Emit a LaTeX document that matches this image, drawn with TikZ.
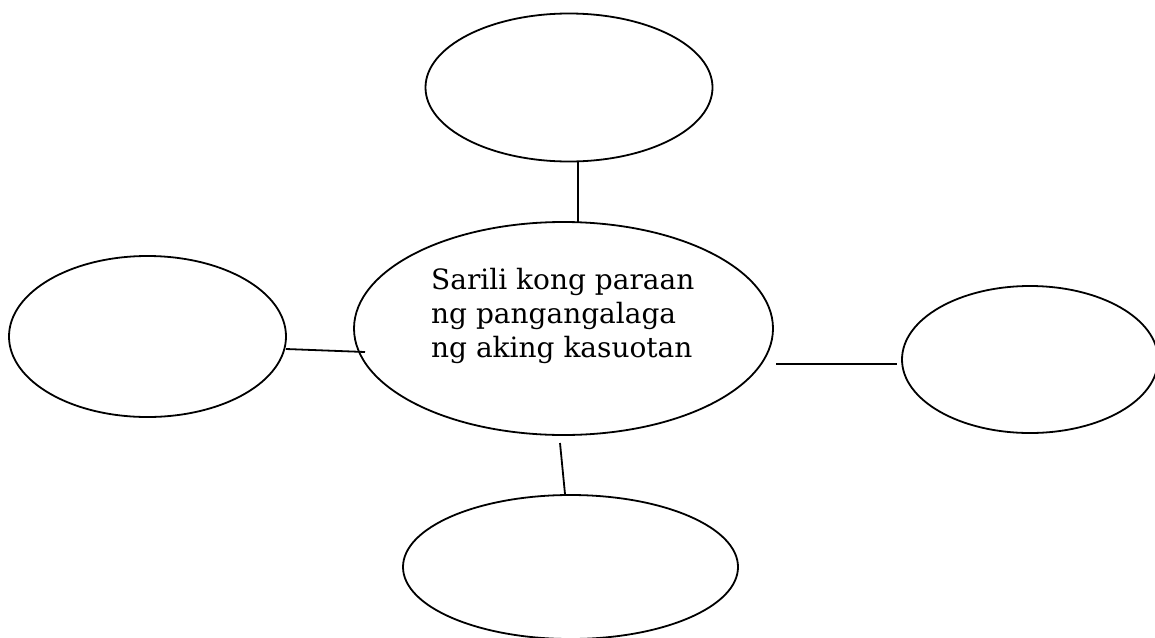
\documentclass[tikz,border=0pt]{standalone}
\usepackage{fontspec}
\setmainfont{DejaVu Serif}
\usetikzlibrary{shapes.geometric}
\begin{document}
\begin{tikzpicture}[x=1pt,y=-1pt,
  bubble/.style={draw=black, line width=1.8pt, ellipse, inner sep=0pt, outer sep=0pt},
  link/.style={draw=black, line width=1.8pt}]
\useasboundingbox[fill=white] (0,0) rectangle (1155,637);
\node[bubble, minimum width=287pt, minimum height=148pt] (top) at (569,87.5) {};
\node[bubble, minimum width=419pt, minimum height=213pt] (center) at (563.5,328.5) {};
\node[bubble, minimum width=277pt, minimum height=161pt] (left) at (147.5,336.5) {};
\node[bubble, minimum width=256pt, minimum height=147pt] (right) at (1030,359.5) {};
\node[bubble, minimum width=335pt, minimum height=144pt] (bottom) at (570.5,567) {};
\node[anchor=north west, inner sep=0pt, align=left, font=\fontsize{28}{34}\selectfont] (label) at (431,268) {Sarili kong paraan\\ng pangangalaga\\ng aking kasuotan};
\coordinate (t1) at (578,162);
\coordinate (t2) at (578,223);
\coordinate (l1) at (286,349);
\coordinate (l2) at (365,352);
\coordinate (r1) at (776,364);
\coordinate (r2) at (897,364);
\coordinate (b1) at (560,443);
\coordinate (b2) at (565,494);
\draw[link] (t1) -- (t2);
\draw[link] (l1) -- (l2);
\draw[link] (r1) -- (r2);
\draw[link] (b1) -- (b2);
\end{tikzpicture}
\end{document}
